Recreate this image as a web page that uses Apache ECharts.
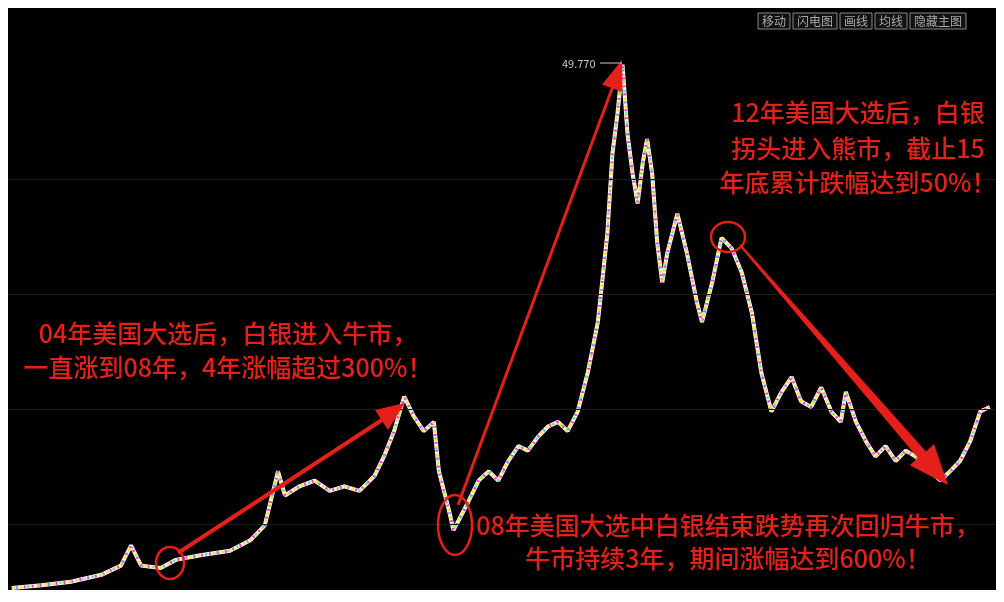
<!DOCTYPE html>
<html>
<head>
<meta charset="utf-8">
<script src="https://cdn.jsdelivr.net/npm/echarts@6/dist/echarts.min.js"></script>
<style>html,body{margin:0;background:#fff;}#main{width:1004px;height:602px;}</style>
</head>
<body>
<div id="main"></div>
<script>
// 时间（年）与价格
var years = [2001.00,2001.47,2001.94,2002.42,2002.73,2002.89,2003.05,2003.36,2003.60,2003.99,
  2004.46,2004.78,2005.01,2005.22,2005.33,2005.56,2005.80,2006.04,2006.27,2006.51,
  2006.75,2006.90,2007.06,2007.22,2007.37,2007.53,2007.69,2007.77,2007.93,2008.00,
  2008.08,2008.24,2008.40,2008.56,2008.71,2008.87,2009.03,2009.18,2009.34,2009.50,
  2009.66,2009.81,2009.97,2010.13,2010.29,2010.44,2010.52,2010.60,2010.68,2010.76,
  2010.84,2010.92,2011.00,2011.07,2011.15,2011.23,2011.31,2011.39,2011.55,2011.70,
  2011.86,2011.94,2012.10,2012.25,2012.41,2012.57,2012.73,2012.88,2013.04,2013.20,
  2013.36,2013.51,2013.67,2013.83,2013.99,2014.14,2014.22,2014.38,2014.54,2014.69,
  2014.85,2015.01,2015.17,2015.32,2015.56,2015.72,2015.87,2016.03,2016.19,2016.35,2016.50];
var prices = [4.25,4.5,4.8,5.4,6.2,7.96,6.2,6.0,6.7,7.1,
  7.5,8.4,9.7,14.4,12.3,13.1,13.6,12.7,13.1,12.7,
  14.0,15.7,17.9,20.9,19.2,17.9,18.7,14.4,11.0,9.3,
  10.1,11.8,13.6,14.4,13.6,15.3,16.6,16.2,17.4,18.3,
  18.7,17.9,19.6,23.0,27.4,35.1,42.0,45.5,49.77,43.7,
  40.3,37.7,41.2,43.3,40.3,34.3,30.8,33.4,36.8,33.4,
  29.1,27.4,30.8,34.7,33.8,31.7,28.2,23.0,19.6,21.3,
  22.6,20.5,20.0,21.7,19.6,18.7,21.3,18.7,17.0,15.7,
  16.6,15.3,16.2,15.7,14.4,13.6,14.4,15.3,17.0,19.6,20.0];
var gridLevels = [9.8, 19.8, 29.8, 39.8];
var buttons = ['移动', '闪电图', '画线', '均线', '隐藏主图'];

var pts = years.map(function (y, i) { return [y, prices[i]]; });
var chart = echarts.init(document.getElementById('main'));
var red = '#e3211a';
var font = '"Noto Sans CJK SC", sans-serif';

function txt(x, y, s) {
  return { type: 'text', x: x, y: y, z: 50,
    style: { text: s, fill: red, font: '500 25px ' + font, align: 'center', verticalAlign: 'middle',
      textAlign: 'center', textVerticalAlign: 'middle' } };
}

var graphic = [
  txt(228, 333, '04年美国大选后，白银进入牛市，'),
  txt(228, 367, '一直涨到08年，4年涨幅超过300%！'),
  txt(858, 112, '12年美国大选后，白银'),
  txt(858, 148, '拐头进入熊市，截止15'),
  txt(858, 182, '年底累计跌幅达到50%！'),
  txt(728, 525, '08年美国大选中白银结束跌势再次回归牛市，'),
  txt(728, 558, '牛市持续3年，期间涨幅达到600%！'),
  { type: 'line', z: 40, shape: { x1: 178, y1: 553, x2: 385, y2: 418 }, style: { stroke: red, lineWidth: 4 } },
  { type: 'polygon', z: 40, shape: { points: [[405, 403], [388, 430], [375, 410]] }, style: { fill: red } },
  { type: 'line', z: 40, shape: { x1: 458, y1: 505, x2: 613, y2: 86 }, style: { stroke: red, lineWidth: 3 } },
  { type: 'polygon', z: 40, shape: { points: [[622, 60], [622.6, 92], [602, 84.5]] }, style: { fill: red } },
  { type: 'polygon', z: 40, shape: { points: [[740.8, 244.3], [926, 451.5], [934, 444], [948, 485], [909.7, 465.3], [918, 458], [739.2, 245.7]] }, style: { fill: red } },
  { type: 'ellipse', z: 40, shape: { cx: 170, cy: 563, rx: 14, ry: 16 }, style: { fill: 'none', stroke: red, lineWidth: 2.5 } },
  { type: 'ellipse', z: 40, shape: { cx: 455, cy: 525, rx: 17, ry: 30 }, style: { fill: 'none', stroke: red, lineWidth: 2.5 } },
  { type: 'ellipse', z: 40, shape: { cx: 728, cy: 237, rx: 17, ry: 15 }, style: { fill: 'none', stroke: red, lineWidth: 2.5 } },
  { type: 'text', x: 562, y: 58, z: 50, style: { text: '49.770', fill: '#c8c8c8', font: '11px ' + font } },
  { type: 'line', z: 40, shape: { x1: 600, y1: 63, x2: 622, y2: 63 }, style: { stroke: '#c8c8c8', lineWidth: 1 } }
];
var bx = 758;
buttons.forEach(function (b) {
  var w = b.length * 12 + 8;
  graphic.push({ type: 'rect', z: 50, shape: { x: bx, y: 13, width: w, height: 16 }, style: { fill: '#111', stroke: '#888', lineWidth: 1 } });
  graphic.push({ type: 'text', z: 51, x: bx + 4, y: 15, style: { text: b, fill: '#aaa', font: '12px ' + font } });
  bx += w + 3;
});

var option = {
  backgroundColor: '#fff',
  animation: false,
  grid: { left: 8, right: 8, top: 8, bottom: 12, show: true, backgroundColor: '#000', borderWidth: 0 },
  xAxis: { type: 'value', min: 2000.94, max: 2016.6, show: false },
  yAxis: { type: 'value', min: 4.08, max: 54.7, show: false },
  series: [
    { type: 'line', data: pts, symbol: 'none', lineStyle: { color: '#ffffff', width: 4 },
      markLine: { silent: true, symbol: 'none', label: { show: false },
        lineStyle: { color: '#1c1c1c', type: 'solid', width: 1 },
        data: gridLevels.map(function (v) { return { yAxis: v }; }) } },
    { type: 'line', data: pts, symbol: 'none', lineStyle: { color: '#ffe23a', width: 3, type: [3, 5] } },
    { type: 'line', data: pts, symbol: 'none', lineStyle: { color: '#ff3ad0', width: 3, type: [2, 6], dashOffset: 4 } },
    { type: 'line', data: pts, symbol: 'none', lineStyle: { color: '#39e0e6', width: 2, type: [2, 9], dashOffset: 7 } }
  ],
  graphic: graphic
};
chart.setOption(option);
</script>
</body>
</html>
